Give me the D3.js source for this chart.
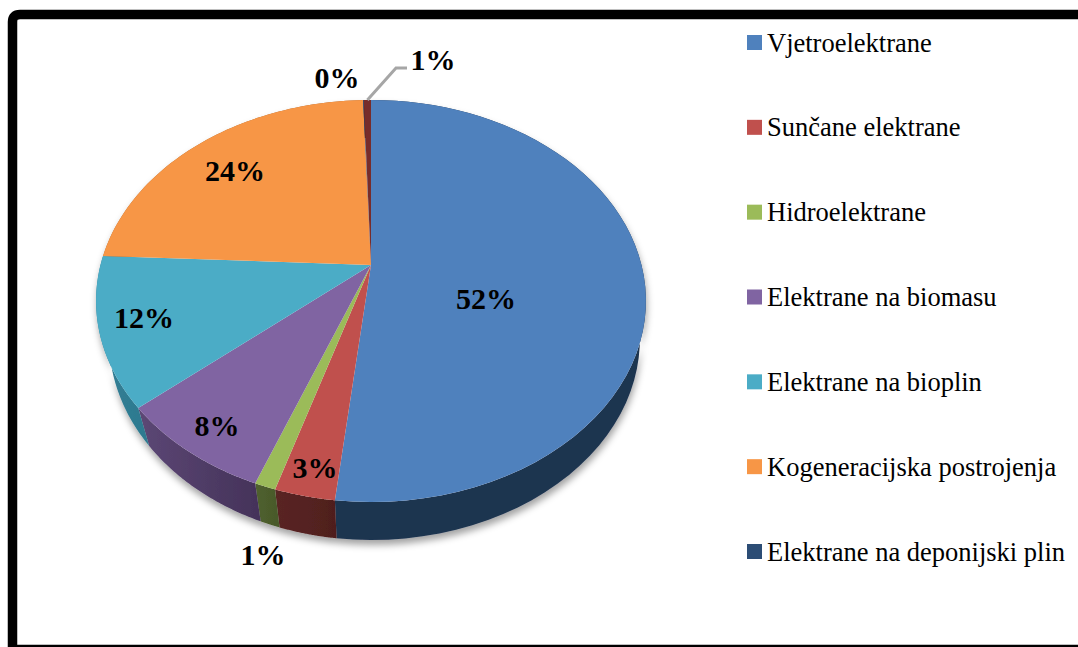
<!DOCTYPE html>
<html>
<meta charset="utf-8">
<script src="https://cdn.jsdelivr.net/npm/d3@7"></script>
<style>
body { margin: 0; background: #fff; }
text { font-family: "Liberation Serif", serif; fill: #000; }
</style>
<body>
<script>

// shares, clockwise from the top
var categories = ["Vjetroelektrane", "Sunčane elektrane", "Hidroelektrane", "Elektrane na biomasu",
  "Elektrane na bioplin", "Kogeneracijska postrojenja", "Elektrane na deponijski plin", ""];
var values = [51.75, 3.0, 1.05, 7.95, 12.0, 23.7, 0.05, 0.5];
var labels = ["52%", "3%", "1%", "8%", "12%", "24%", "0%", "1%"];

var topColors = ["#4f81bd", "#c0504d", "#9bbb59", "#8064a2", "#4bacc6", "#f79646", "#2c4d75", "#772c2a"];
var wallLeft = ["#1f3450", "#5a2523", "#50612f", "#5c4775", "#337f95", "#a8652e", "#1f3450", "#4c1d1b"];
var wallRight = ["#1f3450", "#4f1f1e", "#4a5a2b", "#45335a", "#2e7a90", "#a8652e", "#1f3450", "#4c1d1b"];

var width = 1078, height = 647;
var pieCfg = {cx: 371, cy: 265, R: 270.5, b: 194.6, k: 0.179, depth: 38, shrinkLeft: 0.953, shrinkRight: 0.978};
var labelAt = [[486, 298], [315, 467], [263, 554], [217, 425], [144, 317], [235, 170], [337, 77], [433, 59]];

var svg = d3.select("body").append("svg")
  .attr("width", width)
  .attr("height", height)
  .style("display", "block");

var defs = svg.append("defs");
var shadow = defs.append("filter").attr("id", "shadow")
  .attr("x", "-10%").attr("y", "-10%").attr("width", "120%").attr("height", "125%");
shadow.append("feDropShadow")
  .attr("dx", 1).attr("dy", 5).attr("stdDeviation", 3.5)
  .attr("flood-color", "#000").attr("flood-opacity", 0.36);

// frame, open on the right side
svg.append("path")
  .attr("d", "M1078,14.5 H20 Q12.5,14.5 12.5,22 V647")
  .attr("fill", "none").attr("stroke", "#000").attr("stroke-width", 9.5);
svg.append("line")
  .attr("x1", 17).attr("x2", width).attr("y1", 646).attr("y2", 646)
  .attr("stroke", "#000").attr("stroke-width", 2.5);

// tilted disc: angle around the pie goes through a perspective projection
function project(a, r) {
  var u = r * Math.sin(a), v = r * Math.cos(a);
  var w = 1 + pieCfg.k * v;
  return [pieCfg.cx + pieCfg.R * u / w, pieCfg.cy - pieCfg.b * v / w];
}
function projectLow(a) {
  var p = project(a, 1);
  var s = p[0] < pieCfg.cx ? pieCfg.shrinkLeft : pieCfg.shrinkRight;
  return [pieCfg.cx + s * (p[0] - pieCfg.cx), p[1] + pieCfg.depth];
}

var pie = d3.pie().sort(null).value(function(d) { return d; });
var arcs = pie(values);
var line = d3.line();

function angles(d) {
  return d3.range(0, 61).map(function(i) {
    return d.startAngle + (d.endAngle - d.startAngle) * i / 60;
  });
}

var pieG = svg.append("g");
var walls = pieG.append("g").attr("filter", "url(#shadow)");

arcs.forEach(function(d, i) {
  var as = angles(d);
  var top = as.map(function(a) { return project(a, 1); });
  var low = as.map(projectLow).reverse();
  var grad = defs.append("linearGradient").attr("id", "wall" + i)
    .attr("gradientUnits", "userSpaceOnUse")
    .attr("x1", d3.min(top, function(p) { return p[0]; }))
    .attr("x2", d3.max(top, function(p) { return p[0]; }))
    .attr("y1", 0).attr("y2", 0);
  grad.append("stop").attr("offset", 0).attr("stop-color", wallLeft[i]);
  grad.append("stop").attr("offset", 1).attr("stop-color", wallRight[i]);
  walls.append("path")
    .attr("d", line(top.concat(low)) + "Z")
    .attr("fill", "url(#wall" + i + ")");
});

pieG.selectAll("path.slice")
  .data(arcs)
  .enter().append("path")
  .attr("class", "slice")
  .attr("d", function(d) {
    return line([[pieCfg.cx, pieCfg.cy]].concat(angles(d).map(function(a) { return project(a, 1); }))) + "Z";
  })
  .attr("fill", function(d, i) { return topColors[i]; });

// leader for the last slice
var lastArc = arcs[arcs.length - 1];
var leaderStart = project((lastArc.startAngle + lastArc.endAngle) / 2, 1);
svg.append("polyline")
  .attr("points", [leaderStart, [396, 68], [407, 68]].join(" "))
  .attr("fill", "none").attr("stroke", "#a6a6a6").attr("stroke-width", 3);

svg.selectAll("text.value")
  .data(labels)
  .enter().append("text")
  .attr("class", "value")
  .attr("x", function(d, i) { return labelAt[i][0]; })
  .attr("y", function(d, i) { return labelAt[i][1]; })
  .attr("text-anchor", "middle")
  .attr("dominant-baseline", "central")
  .attr("font-weight", "bold")
  .attr("font-size", 30)
  .text(function(d) { return d; });

// legend only lists the seven named entries
var legendNames = categories.filter(function(d) { return d !== ""; });
var legendY = d3.scalePoint().domain(legendNames).range([42.5, 551.5]);

var legend = svg.selectAll("g.legend")
  .data(legendNames)
  .enter().append("g")
  .attr("class", "legend")
  .attr("transform", function(d) { return "translate(747," + legendY(d) + ")"; });
legend.append("rect")
  .attr("x", 0).attr("y", -7.5).attr("width", 15).attr("height", 15)
  .attr("fill", function(d, i) { return topColors[i]; });
legend.append("text")
  .attr("x", 20).attr("y", 0)
  .attr("dominant-baseline", "central")
  .attr("font-size", 26.5)
  .text(function(d) { return d; });

</script>
</body>
</html>
